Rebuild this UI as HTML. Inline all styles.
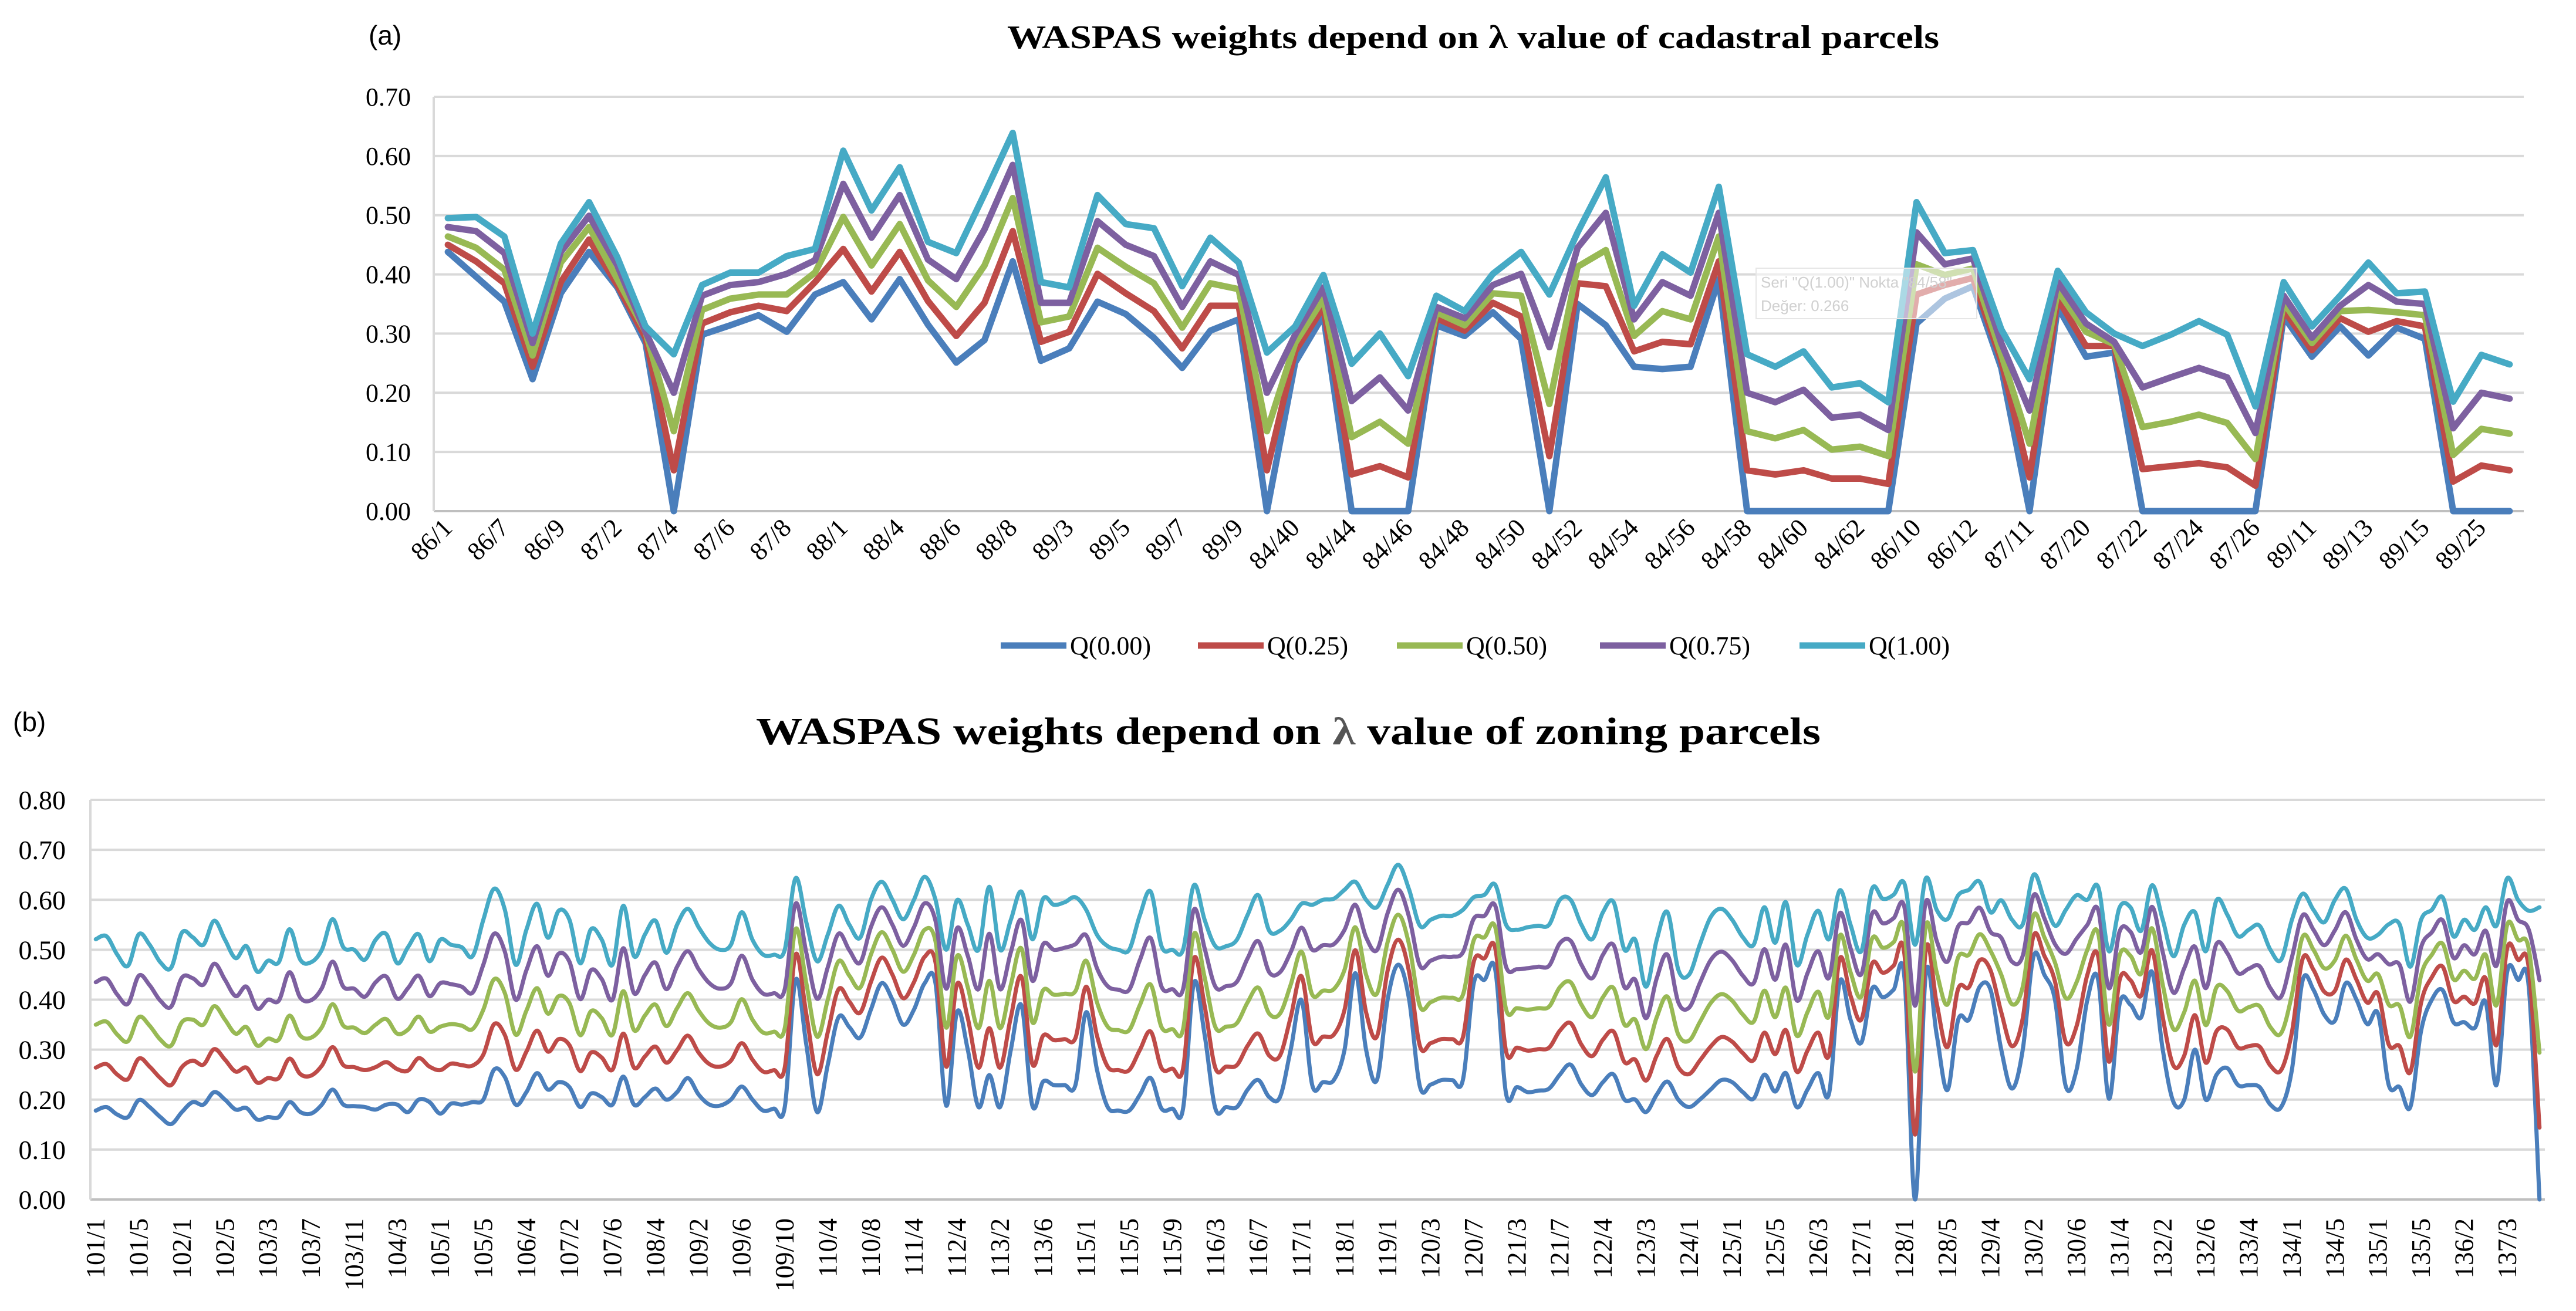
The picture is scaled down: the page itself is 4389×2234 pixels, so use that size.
<!DOCTYPE html>
<html>
<head>
<meta charset="utf-8">
<style>
  html,body{margin:0;padding:0;background:#fff;}
  #wrap{width:4389px;height:2234px;position:relative;overflow:hidden;background:#fff;}
  svg{display:block;}
</style>
</head>
<body>
<div id="wrap">
<svg id="fig" width="4389" height="2234" viewBox="0 0 4389 2234" xmlns="http://www.w3.org/2000/svg">
  <text x="628" y="76" font-family="Liberation Sans, sans-serif" font-size="46" fill="#000">(a)</text>
  <text x="1716" y="82" font-family="Liberation Serif, serif" font-weight="bold" font-size="56" textLength="1588" lengthAdjust="spacingAndGlyphs" fill="#000">WASPAS weights depend on λ value of cadastral parcels</text>
  <text x="22" y="1246" font-family="Liberation Sans, sans-serif" font-size="46" fill="#000">(b)</text>
  <text x="1288" y="1268" font-family="Liberation Serif, serif" font-weight="bold" font-size="66" textLength="1814" lengthAdjust="spacingAndGlyphs" fill="#000">WASPAS weights depend on <tspan fill="#555">λ</tspan> value of zoning parcels</text>
  <g id="chartA"></g>
  <g id="chartB"></g>
</svg>
</div>
<script>
// ---------- Chart (a) data ----------
const aTickLabels = ["86/1","86/7","86/9","87/2","87/4","87/6","87/8","88/1","88/4","88/6","88/8","89/3","89/5","89/7","89/9","84/40","84/44","84/46","84/48","84/50","84/52","84/54","84/56","84/58","84/60","84/62","86/10","86/12","87/11","87/20","87/22","87/24","87/26","89/11","89/13","89/15","89/25"];
const aYTicks = [0,0.1,0.2,0.3,0.4,0.5,0.6,0.7];
const aYTickLabels = ["0.00","0.10","0.20","0.30","0.40","0.50","0.60","0.70"];
const aQ000 = [.438,.396,.354,.223,.368,.438,.378,.284,0,.298,.314,.331,.303,.366,.387,.324,.392,.315,.251,.289,.422,.254,.275,.354,.333,.293,.242,.305,.324,0,.251,.331,0,0,0,.314,.296,.336,.291,0,.35,.314,.244,.24,.244,.392,0,0,0,0,0,0,.317,.359,.38,.242,0,.345,.261,.268,0,0,0,0,0,.329,.261,.312,.263,.31,.291,0,0,0];
const aQ025 = [.45,.422,.385,.244,.387,.459,.382,.293,.069,.317,.336,.347,.338,.387,.443,.371,.438,.355,.296,.352,.473,.286,.303,.401,.368,.338,.275,.347,.347,.069,.27,.345,.062,.076,.057,.326,.305,.352,.329,.093,.385,.38,.27,.286,.282,.422,.069,.062,.069,.055,.055,.046,.366,.382,.394,.254,.057,.359,.279,.279,.071,.076,.081,.074,.043,.34,.272,.326,.303,.321,.312,.05,.077,.069];
const aQ050 = [.464,.445,.408,.263,.42,.48,.392,.303,.135,.34,.359,.366,.366,.403,.497,.415,.485,.39,.345,.415,.529,.319,.329,.445,.413,.385,.31,.385,.375,.135,.284,.359,.125,.151,.114,.336,.314,.368,.364,.181,.413,.441,.296,.338,.324,.464,.135,.123,.137,.104,.109,.093,.417,.399,.41,.265,.114,.373,.303,.282,.142,.151,.163,.149,.088,.352,.284,.338,.34,.336,.331,.095,.139,.131];
const aQ075 = [.48,.473,.436,.284,.438,.499,.415,.303,.2,.364,.382,.387,.401,.424,.553,.462,.534,.425,.392,.476,.585,.352,.352,.49,.45,.431,.345,.422,.399,.2,.298,.378,.186,.226,.17,.345,.326,.382,.401,.277,.445,.504,.324,.387,.364,.504,.2,.184,.205,.158,.163,.137,.471,.417,.427,.284,.17,.387,.317,.286,.209,.226,.242,.226,.132,.364,.293,.347,.382,.354,.35,.14,.2,.19];
const aQ100 = [.495,.497,.464,.3,.452,.522,.429,.312,.265,.382,.403,.403,.431,.443,.609,.508,.581,.455,.436,.536,.639,.387,.378,.534,.485,.478,.38,.462,.42,.268,.312,.399,.249,.3,.228,.364,.338,.401,.438,.366,.471,.564,.347,.434,.403,.548,.265,.244,.27,.209,.216,.184,.522,.436,.441,.307,.223,.406,.336,.3,.279,.298,.321,.298,.177,.387,.312,.364,.42,.368,.371,.185,.264,.248];

// ---------- Chart (b) data ----------
const bTickLabels = ["101/1","101/5","102/1","102/5","103/3","103/7","103/11","104/3","105/1","105/5","106/4","107/2","107/6","108/4","109/2","109/6","109/10","110/4","110/8","111/4","112/4","113/2","113/6","115/1","115/5","115/9","116/3","116/7","117/1","118/1","119/1","120/3","120/7","121/3","121/7","122/4","123/3","124/1","125/1","125/5","126/3","127/1","128/1","128/5","129/4","130/2","130/6","131/4","132/2","132/6","133/4","134/1","134/5","135/1","135/5","136/2","137/3"];
const bYTicks = [0,0.1,0.2,0.3,0.4,0.5,0.6,0.7,0.8];
const bYTickLabels = ["0.00","0.10","0.20","0.30","0.40","0.50","0.60","0.70","0.80"];
const bQ000 = [.178,.185,.17,.165,.199,.185,.165,.151,.175,.195,.19,.215,.2,.18,.183,.16,.165,.165,.195,.175,.172,.19,.22,.19,.187,.185,.18,.19,.19,.175,.2,.195,.172,.192,.19,.195,.2,.26,.245,.19,.215,.253,.22,.235,.225,.185,.212,.205,.19,.246,.19,.205,.222,.2,.215,.243,.21,.19,.188,.2,.226,.2,.178,.182,.185,.439,.31,.175,.27,.365,.345,.324,.38,.433,.4,.35,.38,.433,.433,.188,.375,.3,.185,.249,.185,.3,.388,.188,.236,.229,.229,.229,.375,.26,.185,.178,.178,.21,.243,.182,.182,.182,.433,.33,.182,.185,.185,.22,.239,.205,.205,.3,.399,.229,.235,.239,.3,.453,.3,.239,.4,.47,.4,.226,.23,.239,.239,.24,.433,.44,.46,.212,.225,.215,.218,.222,.25,.27,.23,.209,.235,.25,.2,.2,.175,.21,.236,.2,.185,.2,.22,.239,.235,.215,.202,.25,.216,.253,.185,.22,.253,.212,.436,.36,.314,.422,.405,.42,.446,0,.453,.33,.219,.36,.36,.426,.42,.3,.222,.3,.487,.45,.399,.226,.26,.4,.44,.202,.392,.39,.365,.456,.3,.195,.2,.3,.2,.25,.263,.229,.229,.225,.19,.185,.26,.439,.42,.37,.358,.433,.4,.351,.372,.229,.225,.185,.338,.4,.419,.355,.355,.344,.395,.229,.456,.44,.426,0];
const bQ025 = [.264,.271,.25,.241,.282,.266,.243,.229,.265,.278,.27,.301,.28,.256,.264,.234,.243,.243,.282,.251,.248,.268,.305,.269,.265,.259,.265,.275,.261,.258,.283,.266,.259,.272,.269,.268,.29,.351,.329,.26,.296,.338,.296,.321,.309,.257,.294,.284,.26,.332,.264,.286,.306,.274,.299,.328,.294,.271,.266,.278,.313,.28,.256,.259,.264,.49,.371,.251,.335,.421,.396,.374,.435,.484,.45,.403,.435,.486,.475,.266,.431,.363,.264,.343,.264,.365,.445,.271,.328,.319,.321,.323,.426,.328,.266,.259,.259,.3,.336,.263,.262,.262,.482,.388,.263,.266,.269,.308,.332,.288,.288,.365,.447,.319,.326,.33,.38,.499,.375,.326,.458,.52,.455,.307,.313,.321,.321,.325,.476,.483,.503,.297,.304,.298,.301,.304,.338,.353,.31,.287,.32,.336,.275,.28,.238,.288,.321,.265,.251,.278,.306,.325,.316,.293,.279,.334,.291,.339,.256,.298,.334,.289,.482,.408,.36,.472,.454,.468,.493,.13,.501,.393,.305,.422,.425,.479,.459,.375,.307,.363,.528,.488,.436,.315,.347,.45,.487,.276,.44,.439,.408,.499,.365,.268,.288,.369,.274,.337,.34,.304,.307,.306,.268,.259,.335,.482,.46,.416,.418,.48,.44,.394,.412,.31,.307,.255,.394,.445,.466,.398,.406,.393,.443,.309,.503,.48,.464,.144];
const bQ050 = [.35,.356,.33,.317,.365,.348,.32,.308,.355,.36,.35,.387,.36,.332,.345,.308,.322,.32,.368,.328,.324,.345,.391,.348,.344,.333,.35,.361,.332,.34,.366,.336,.346,.351,.348,.341,.38,.441,.413,.33,.378,.423,.372,.407,.393,.329,.377,.363,.33,.417,.339,.368,.39,.347,.383,.413,.378,.352,.344,.355,.401,.36,.334,.336,.343,.541,.433,.326,.4,.477,.448,.424,.49,.535,.5,.456,.49,.54,.517,.344,.487,.425,.343,.438,.343,.43,.502,.355,.419,.41,.412,.417,.478,.395,.346,.339,.339,.39,.43,.345,.341,.341,.531,.445,.345,.346,.353,.395,.424,.372,.372,.43,.496,.41,.418,.421,.46,.545,.45,.412,.515,.57,.51,.387,.395,.404,.404,.41,.519,.525,.545,.381,.383,.38,.383,.386,.425,.435,.39,.365,.405,.423,.35,.36,.301,.365,.406,.33,.318,.355,.393,.411,.398,.37,.356,.418,.365,.424,.328,.375,.416,.367,.528,.455,.406,.522,.504,.515,.54,.256,.548,.455,.39,.485,.49,.531,.498,.45,.391,.426,.569,.525,.474,.403,.435,.5,.533,.35,.489,.488,.452,.543,.43,.341,.375,.438,.349,.425,.417,.378,.385,.387,.345,.333,.41,.526,.5,.463,.479,.528,.48,.438,.451,.39,.388,.326,.449,.49,.512,.441,.458,.442,.49,.389,.55,.52,.502,.294];
const bQ075 = [.435,.442,.41,.392,.448,.429,.398,.386,.444,.443,.43,.472,.44,.407,.426,.382,.4,.398,.455,.404,.399,.423,.476,.426,.422,.406,.435,.446,.402,.423,.448,.407,.433,.431,.426,.414,.47,.532,.496,.4,.459,.507,.448,.492,.476,.401,.459,.441,.4,.503,.413,.449,.474,.421,.466,.497,.461,.433,.422,.433,.488,.44,.412,.413,.421,.592,.494,.402,.465,.532,.499,.474,.545,.585,.55,.508,.545,.593,.558,.422,.543,.488,.421,.532,.421,.495,.559,.438,.511,.5,.504,.511,.529,.463,.427,.42,.42,.48,.523,.426,.421,.421,.58,.503,.426,.427,.436,.483,.517,.455,.455,.495,.544,.5,.509,.511,.54,.59,.525,.499,.573,.62,.565,.468,.478,.486,.486,.495,.562,.568,.588,.466,.461,.463,.466,.468,.513,.518,.47,.443,.49,.509,.425,.44,.363,.443,.49,.395,.384,.433,.479,.496,.479,.448,.433,.501,.44,.51,.399,.453,.497,.444,.573,.503,.451,.572,.553,.563,.586,.388,.596,.518,.476,.547,.555,.584,.536,.524,.476,.488,.609,.563,.511,.492,.522,.55,.58,.423,.537,.536,.495,.586,.495,.414,.463,.506,.423,.512,.493,.453,.462,.467,.423,.406,.485,.569,.54,.509,.539,.575,.52,.481,.491,.471,.47,.396,.505,.535,.559,.484,.509,.491,.538,.468,.596,.56,.54,.439];
const bQ100 = [.521,.527,.49,.468,.531,.51,.475,.464,.534,.525,.51,.558,.52,.483,.507,.456,.478,.475,.541,.48,.475,.5,.561,.505,.5,.48,.52,.531,.473,.505,.531,.477,.52,.51,.505,.487,.56,.622,.58,.47,.54,.592,.524,.578,.56,.473,.541,.52,.47,.588,.487,.53,.558,.494,.55,.582,.545,.514,.5,.51,.575,.52,.49,.49,.5,.643,.555,.477,.53,.588,.55,.524,.6,.636,.6,.561,.6,.646,.6,.5,.599,.55,.5,.626,.5,.56,.616,.521,.602,.59,.595,.605,.58,.53,.507,.5,.5,.57,.616,.507,.5,.5,.629,.56,.507,.507,.52,.57,.609,.538,.538,.56,.592,.59,.6,.602,.62,.636,.6,.585,.63,.67,.62,.548,.56,.568,.568,.58,.605,.61,.63,.55,.54,.545,.548,.55,.6,.6,.55,.521,.575,.595,.5,.52,.426,.52,.575,.46,.45,.51,.565,.582,.56,.525,.51,.585,.514,.595,.47,.53,.578,.521,.619,.55,.497,.622,.602,.61,.633,.51,.643,.58,.561,.609,.62,.636,.575,.599,.56,.551,.65,.6,.548,.58,.609,.6,.626,.497,.585,.585,.538,.629,.56,.487,.55,.575,.497,.599,.57,.527,.54,.548,.5,.48,.56,.612,.58,.555,.6,.622,.56,.524,.53,.551,.551,.466,.56,.58,.605,.527,.56,.54,.585,.548,.643,.6,.578,.585];

const seriesNames = ["Q(0.00)","Q(0.25)","Q(0.50)","Q(0.75)","Q(1.00)"];
const seriesColors = ["#4a7ebb","#be4b48","#98b954","#7d60a0","#46aac5"];

const NS = "http://www.w3.org/2000/svg";
function mk(tag, attrs, parent){
  const e = document.createElementNS(NS, tag);
  for (const k in attrs) e.setAttribute(k, attrs[k]);
  parent.appendChild(e);
  return e;
}

// ===== Chart A =====
(function(){
  const g = document.getElementById("chartA");
  const L = 739, R = 4300, T = 165, B = 871, yMax = 0.7;
  const n = aQ000.length;
  const xA = i => L + (i + 0.5) * (R - L) / n;
  const yA = v => B - v / yMax * (B - T);

  aYTicks.forEach((v, k) => {
    const ln = mk("line", {x1:L, x2:R, y1:yA(v), y2:yA(v), stroke: v===0 ? "#bfbfbf" : "#d9d9d9", "stroke-width":4}, g);
    
    
    const t = mk("text", {x:700, y:yA(v)+15, "text-anchor":"end", "font-family":"Liberation Serif, serif", "font-size":44, fill:"#000"}, g);
    t.textContent = aYTickLabels[k];
    
    
  });
  const ax = mk("line", {x1:L, x2:L, y1:T, y2:B, stroke:"#d9d9d9", "stroke-width":4}, g);
  
  

  aTickLabels.forEach((lab, k) => {
    const x = xA(k*2) + 10, y = 902;
    const t = mk("text", {x:x, y:y, "text-anchor":"end", transform:"rotate(-45 "+x+" "+y+")", "font-family":"Liberation Serif, serif", "font-size":44, fill:"#000"}, g);
    t.textContent = lab;
    
    
  });

  const all = [aQ000, aQ025, aQ050, aQ075, aQ100];
  all.forEach((arr, s) => {
    const d = arr.map((v, i) => (i ? "L" : "M") + xA(i).toFixed(1) + " " + yA(v).toFixed(1)).join(" ");
    const p = mk("path", {d:d, fill:"none", stroke:seriesColors[s], "stroke-width":11, "stroke-linejoin":"round", "stroke-linecap":"round"}, g);
    
    
  });

  // faint tooltip
  const tip = mk("rect", {x:2992, y:457, width:376, height:86, fill:"#ffffff", "fill-opacity":0.55, stroke:"#e6e6e6", "stroke-width":2}, g);
  
  
  const t1 = mk("text", {x:3000, y:490, "font-family":"Liberation Sans, sans-serif", "font-size":26, fill:"#d0d0d0"}, g);
  t1.textContent = 'Seri "Q(1.00)" Nokta "84/58"';
  
  
  const t2 = mk("text", {x:3000, y:530, "font-family":"Liberation Sans, sans-serif", "font-size":26, fill:"#d0d0d0"}, g);
  t2.textContent = 'Değer: 0.266';
  
  

  // legend
  const lx = [1705, 2041, 2380, 2726, 3066];
  seriesNames.forEach((nm, s) => {
    const ln = mk("line", {x1:lx[s], x2:lx[s]+112, y1:1100, y2:1100, stroke:seriesColors[s], "stroke-width":11}, g);
    
    
    const t = mk("text", {x:lx[s]+118, y:1115, "font-family":"Liberation Serif, serif", "font-size":44, fill:"#000"}, g);
    t.textContent = nm;
    
    
  });
})();

// ===== Chart B =====
(function(){
  const g = document.getElementById("chartB");
  const L = 154, R = 4336, T = 1363, B = 2044, yMax = 0.8;
  const n = bQ000.length;
  const xB = i => L + (i + 0.5) * (R - L) / n;
  const yB = v => B - v / yMax * (B - T);

  bYTicks.forEach((v, k) => {
    const ln = mk("line", {x1:L, x2:R, y1:yB(v), y2:yB(v), stroke: v===0 ? "#bfbfbf" : "#d9d9d9", "stroke-width":4}, g);
    
    
    const t = mk("text", {x:112, y:yB(v)+16, "text-anchor":"end", "font-family":"Liberation Serif, serif", "font-size":46, fill:"#000"}, g);
    t.textContent = bYTickLabels[k];
    
    
  });
  const ax = mk("line", {x1:L, x2:L, y1:T, y2:B, stroke:"#d9d9d9", "stroke-width":4}, g);
  
  

  bTickLabels.forEach((lab, k) => {
    const x = xB(k*4) + 15, y = 2076;
    const t = mk("text", {x:x, y:y, "text-anchor":"end", transform:"rotate(-90 "+x+" "+y+")", "font-family":"Liberation Serif, serif", "font-size":45, fill:"#000"}, g);
    t.textContent = lab;
    
    
  });

  function smoothPath(arr){
    const pts = arr.map((v, i) => [xB(i), yB(v)]);
    let d = "M" + pts[0][0].toFixed(1) + " " + pts[0][1].toFixed(1);
    const t = 0.17;
    for (let i = 0; i < pts.length - 1; i++){
      const p0 = pts[i-1] || pts[i], p1 = pts[i], p2 = pts[i+1], p3 = pts[i+2] || pts[i+1];
      const c1x = p1[0] + (p2[0]-p0[0])*t, c1y = p1[1] + (p2[1]-p0[1])*t;
      const c2x = p2[0] - (p3[0]-p1[0])*t, c2y = p2[1] - (p3[1]-p1[1])*t;
      d += " C" + c1x.toFixed(1) + " " + c1y.toFixed(1) + " " + c2x.toFixed(1) + " " + c2y.toFixed(1) + " " + p2[0].toFixed(1) + " " + p2[1].toFixed(1);
    }
    return d;
  }

  const all = [bQ000, bQ025, bQ050, bQ075, bQ100];
  all.forEach((arr, s) => {
    const p = mk("path", {d:smoothPath(arr), fill:"none", stroke:seriesColors[s], "stroke-width":7, "stroke-linejoin":"round", "stroke-linecap":"round"}, g);
    
    
  });
})();
</script>
</body>
</html>
